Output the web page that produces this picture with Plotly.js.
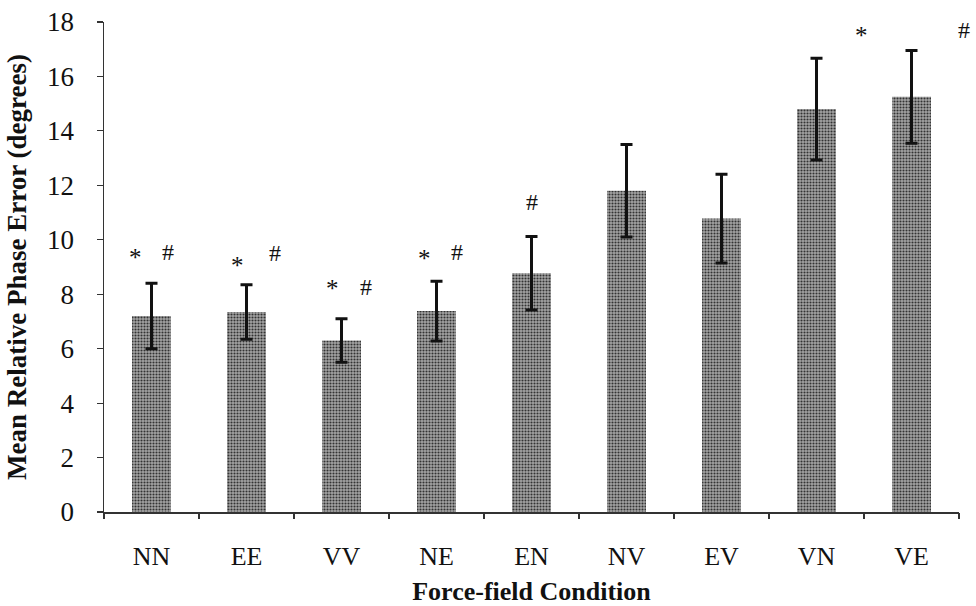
<!DOCTYPE html>
<html>
<head>
<meta charset="utf-8">
<script src="https://cdn.plot.ly/plotly-3.0.1.min.js"></script>
<style>html,body{margin:0;padding:0;background:#fff;}#chart{width:976px;height:606px;}</style>
</head>
<body>
<div id="chart"></div>
<script>
const categories = ["NN","EE","VV","NE","EN","NV","EV","VN","VE"];
const meanError = [7.2, 7.35, 6.3, 7.38, 8.77, 11.8, 10.78, 14.8, 15.25];
const semError = [1.2, 1.0, 0.8, 1.1, 1.35, 1.7, 1.63, 1.87, 1.7];

const starX = [-0.17, 0.9, 1.9, 2.87, 7.47];
const starY = [9.35, 9.05, 8.2, 9.3, 17.5];
const hashX = [0.17, 1.3, 2.26, 3.22, 4.0, 8.55];
const hashY = [9.55, 9.5, 8.25, 9.55, 11.4, 17.7];

const serif = "Liberation Serif, Times New Roman, serif";
const idx = categories.map((c, i) => i);

const W = 976, H = 606;
const M = {l: 104, r: 17, t: 22, b: 94};
const xRange = [-0.5, 8.5];
const pxPerUnit = (W - M.l - M.r) / (xRange[1] - xRange[0]);

function mark(x, y, txt, size) {
  const xc = Math.min(Math.max(x, xRange[0]), xRange[1]);
  return {x: xc, y: y, xref: "x", yref: "y", text: txt, showarrow: false,
          xshift: (x - xc) * pxPerUnit,
          font: {family: serif, size: size, color: "#111"}};
}
const annotations = [];
starX.forEach((x, i) => annotations.push(mark(x, starY[i], "*", 25)));
hashX.forEach((x, i) => annotations.push(mark(x, hashY[i], "#", 24)));

const traces = [{
  type: "bar",
  x: idx,
  y: meanError,
  width: 0.41,
  marker: {
    color: "#8e8e8e",
    line: {width: 0},
    pattern: {shape: ".", fgcolor: "#333333", bgcolor: "#a4a4a4", size: 3, solidity: 0.4}
  },
  error_y: {type: "data", array: semError, visible: true, color: "#111", thickness: 3, width: 6},
  hoverinfo: "none"
}, {
  type: "scatter", x: [0], y: [0], xaxis: "x2", mode: "markers", marker: {opacity: 0}, hoverinfo: "none"
}];

const layout = {
  width: W, height: H,
  margin: M,
  paper_bgcolor: "#fff", plot_bgcolor: "#fff",
  showlegend: false,
  font: {family: serif, size: 26, color: "#111"},
  xaxis: {
    range: xRange,
    tickmode: "array",
    tickvals: idx,
    ticktext: categories,
    ticks: "",
    showline: true, linecolor: "#333", linewidth: 1.5,
    showgrid: false, zeroline: false,
    ticklabelstandoff: 20,
    tickfont: {family: serif, size: 26, color: "#111"},
    title: {text: "<b>Force-field Condition</b>", font: {family: serif, size: 26, color: "#111"}, standoff: 13}
  },
  xaxis2: {
    overlaying: "x", matches: "x", range: xRange,
    tickmode: "array", tickvals: [-0.5,0.5,1.5,2.5,3.5,4.5,5.5,6.5,7.5,8.5],
    ticks: "outside", ticklen: 6, tickcolor: "#333", tickwidth: 1.2,
    showticklabels: false, showgrid: false, zeroline: false, anchor: "y"
  },
  yaxis: {
    range: [0, 18],
    dtick: 2,
    ticks: "outside", ticklen: 6, tickcolor: "#333", tickwidth: 1.2,
    showline: true, linecolor: "#333", linewidth: 1.5,
    showgrid: false, zeroline: false,
    ticklabelstandoff: 17,
    tickfont: {family: serif, size: 27, color: "#111"},
    title: {text: "<b>Mean Relative Phase Error (degrees)</b>", font: {family: serif, size: 27, color: "#111"}, standoff: 12}
  },
  annotations: annotations
};

Plotly.newPlot("chart", traces, layout, {staticPlot: true});
</script>
</body>
</html>
